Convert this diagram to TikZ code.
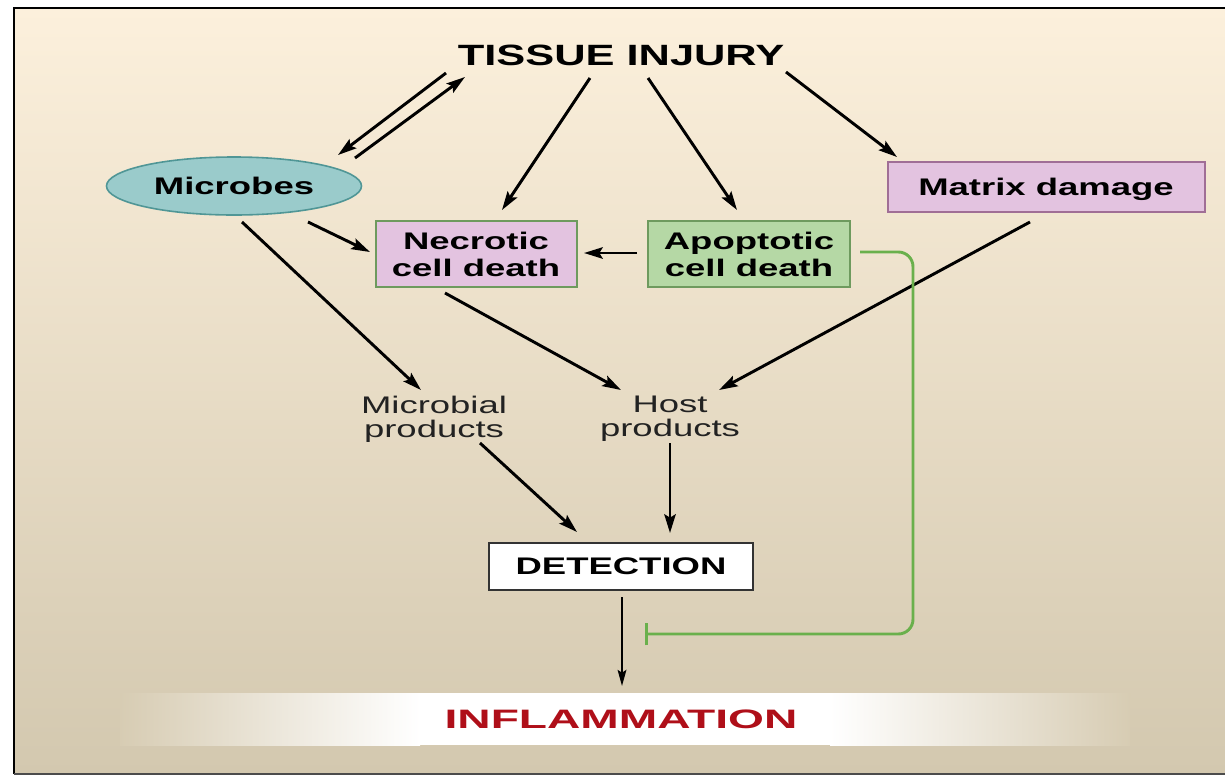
\documentclass[tikz,border=0pt]{standalone}
\usepackage{fontspec}
\setmainfont{Liberation Sans}
\usepackage{graphicx}
\usetikzlibrary{arrows.meta,calc,shapes.geometric}
\newlength\pxl \setlength\pxl{0.75pt}
\newcommand\wtext[3][1.52]{\raisebox{0pt}[\dimexpr\height+#2\relax][\dimexpr\depth-#2\relax]{\scalebox{#1}[1]{\begin{tabular}{@{}c@{}}#3\end{tabular}}}}
\definecolor{bgtop}{RGB}{252,240,220}
\definecolor{bgbot}{RGB}{211,200,175}
\definecolor{bandbg}{RGB}{215,204,179}
\definecolor{teal}{RGB}{154,203,203}
\definecolor{tealdark}{RGB}{80,150,150}
\definecolor{pinkfill}{RGB}{227,195,224}
\definecolor{greenfill}{RGB}{181,216,165}
\definecolor{boxgreen}{RGB}{110,154,94}
\definecolor{boxpurple}{RGB}{160,110,150}
\definecolor{inhibgreen}{RGB}{106,176,76}
\definecolor{inflred}{RGB}{175,15,25}
\definecolor{prodtext}{RGB}{34,34,34}
\begin{document}
\begin{tikzpicture}[x=0.75pt,y=-0.75pt,
  lbl/.style={inner sep=0pt, font=\fontsize{18}{20.25}\selectfont\bfseries},
  prod/.style={inner sep=0pt, text=prodtext, font=\fontsize{18}{17.25}\selectfont},
  box/.style={lbl, draw, line width=1.5pt, minimum height=66\pxl},
  arr/.style={line width=2.2pt, -{Stealth[length=14pt,width=8.5pt,inset=2.5pt]}},
  arrthin/.style={line width=1.6pt, -{Stealth[length=12pt,width=6.5pt,inset=2pt]}},
  inhib/.style={draw=inhibgreen, line width=2.2pt, rounded corners=11pt, -{Bar[width=17pt]}}]
\useasboundingbox (0,0) rectangle (1225,776);
% background frame
\fill[white] (0,0) rectangle (1225,776);
\shade[top color=bgtop, bottom color=bgbot] (14,8) rectangle (1225,774);
\draw[black, line width=2.2pt] (14,774) -- (14,8) -- (1225,8);
\draw[black!70, line width=1.2pt] (14,774) -- (1225,774);
% inflammation band
\shade[left color=bandbg, right color=white] (120,693) rectangle (420,745);
\fill[white] (419,693) rectangle (831,745);
\shade[left color=white, right color=bandbg] (830,693) rectangle (1130,745);
% nodes
\node[lbl, font=\fontsize{22}{24}\selectfont\bfseries] (tissue) at (621,53) {\wtext[1.48]{4.3pt}{TISSUE INJURY}};
\node[lbl, ellipse, draw=tealdark, fill=teal, line width=1.2pt, minimum width=255\pxl, minimum height=58\pxl] (microbes) at (234,186) {\wtext{2.6pt}{Microbes}};
\node[box, draw=boxgreen, fill=pinkfill, minimum width=201\pxl] (necrotic) at (476,254) {\wtext{2.6pt}{Necrotic\\cell death}};
\node[box, draw=boxgreen, fill=greenfill, minimum width=202\pxl] (apoptotic) at (749,254) {\wtext{2.6pt}{Apoptotic\\cell death}};
\node[box, draw=boxpurple, fill=pinkfill, minimum width=317\pxl, minimum height=50\pxl] (matrix) at (1046,187) {\wtext{2.6pt}{Matrix damage}};
\node[prod] (microbial) at (434,416) {\wtext{3pt}{Microbial\\products}};
\node[prod] (host) at (670,416) {\wtext{3pt}{Host\\products}};
\node[lbl, draw=black!80, fill=white, line width=1.5pt, minimum width=264\pxl, minimum height=47\pxl] (detection) at (621,566) {\wtext{2.6pt}{DETECTION}};
\node[lbl, text=inflred, font=\fontsize{20}{22}\selectfont\bfseries] (inflam) at (621,718) {\wtext[1.73]{3.7pt}{INFLAMMATION}};
% connectors
\draw[arr] ($(tissue)+(-175,20)$) -- ($(microbes)+(104,-31)$);
\draw[arr] ($(microbes)+(121,-28)$) -- ($(tissue)+(-156,24)$);
\draw[arr] ($(tissue)+(-31,25)$) -- ($(necrotic)+(26,-44)$);
\draw[arr] ($(tissue)+(27,25)$) -- ($(apoptotic)+(-12,-44)$);
\draw[arr] ($(tissue)+(165,19)$) -- ($(matrix)+(-149,-30)$);
\draw[arr] ($(microbes)+(74,36)$) -- ($(necrotic)+(-106,-2)$);
\draw[arr] ($(apoptotic)+(-112,-1)$) -- ($(necrotic)+(108,-1)$);
\draw[arr] ($(microbes)+(8,36)$) -- ($(microbial)+(-13,-26)$);
\draw[arr] ($(necrotic)+(-31,39)$) -- ($(host)+(-49,-26)$);
\draw[arr] ($(matrix)+(-16,35)$) -- ($(host)+(49,-26)$);
\draw[arr] ($(microbial)+(46,27)$) -- ($(detection)+(-44,-34)$);
\draw[arr] ($(host)+(0,27)$) -- ($(detection)+(49,-33)$);
\draw[arrthin] ($(detection)+(1,31)$) -- ($(inflam)+(1,-32)$);
\draw[inhib] ($(apoptotic)+(111,-2)$) -- ++(53,0) |- ($(detection)+(24,68)$);
\end{tikzpicture}
\end{document}
